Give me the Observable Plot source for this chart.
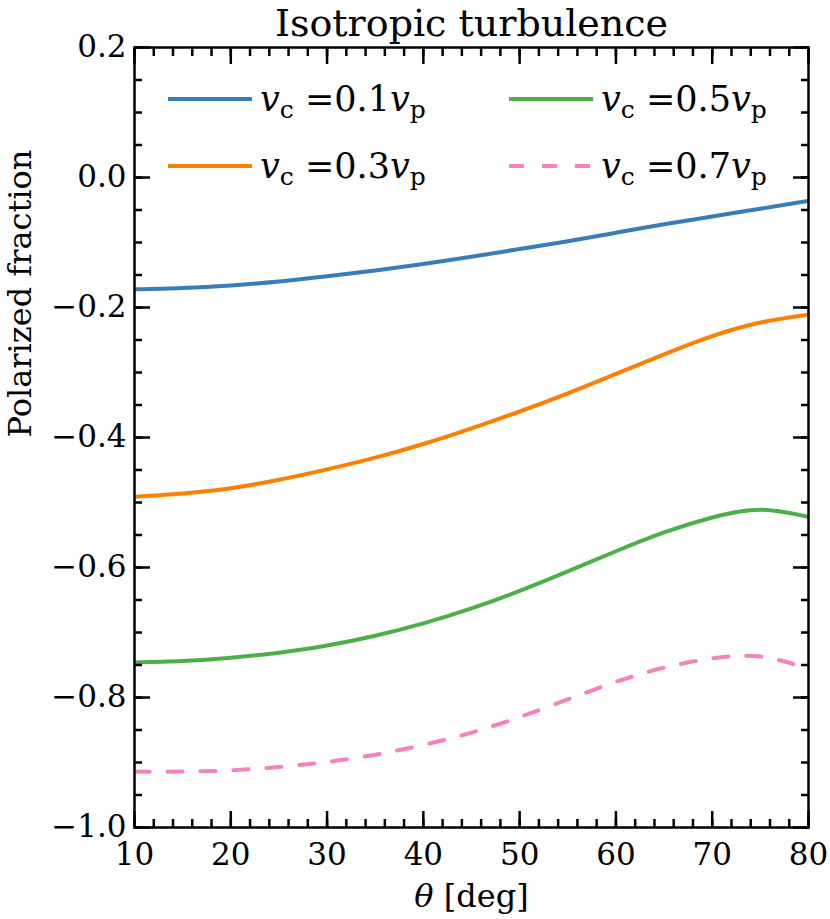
<!DOCTYPE html>
<html>
<head>
<meta charset="utf-8">
<script src="https://cdn.jsdelivr.net/npm/d3@7"></script>
<script src="https://cdn.jsdelivr.net/npm/@observablehq/plot@0.6"></script>
<style>
  body { margin: 0; background: #fff; }
  #chart { width: 830px; height: 919px; }
</style>
</head>
<body>
<div id="chart"></div>
<script>
// ---- data ----
const theta = [10, 15, 20, 25, 30, 35, 40, 45, 50, 55, 60, 65, 70, 75, 80];
const frac01 = [-0.172, -0.170, -0.166, -0.160, -0.152, -0.143, -0.133, -0.122, -0.110, -0.098, -0.085, -0.072, -0.060, -0.048, -0.036];
const frac03 = [-0.491, -0.486, -0.478, -0.465, -0.449, -0.431, -0.410, -0.386, -0.360, -0.332, -0.302, -0.272, -0.244, -0.223, -0.211];
const frac05 = [-0.746, -0.744, -0.739, -0.731, -0.720, -0.705, -0.686, -0.663, -0.636, -0.606, -0.575, -0.546, -0.523, -0.511, -0.522];
const frac07 = [-0.914, -0.914, -0.912, -0.907, -0.899, -0.888, -0.873, -0.854, -0.830, -0.803, -0.776, -0.754, -0.740, -0.737, -0.756];

const seriesRatio = ["0.1", "0.3", "0.5", "0.7"];
const seriesColors = ["#377eb8", "#ff7f00", "#4daf4a", "#f781bf"];
const seriesDash = [null, null, null, "15,18"];
const seriesValues = [frac01, frac03, frac05, frac07];

const xTicks = [10, 20, 30, 40, 50, 60, 70, 80];
const yTicks = [-1.0, -0.8, -0.6, -0.4, -0.2, 0.0, 0.2];
const xMinorTicks = d3.range(10, 80.001, 2);
const yMinorTicks = d3.range(-1.0, 0.2001, 0.05);

const titleText = "Isotropic turbulence";
const xLabelText = "θ [deg]";
const yLabelText = "Polarized fraction";

// ---- chart ----
const lineMarks = seriesValues.map((vals, s) =>
  Plot.line(theta.map((t, i) => ({theta: t, value: vals[i]})), {
    x: "theta", y: "value",
    stroke: seriesColors[s], strokeWidth: 4,
    strokeDasharray: seriesDash[s] || undefined,
    curve: "natural", clip: true
  })
);

const tickStyle = {stroke: "#000", strokeWidth: 2.5, fill: "none", label: null};

const chart = Plot.plot({
  width: 830,
  height: 919,
  marginLeft: 134,
  marginRight: 22,
  marginTop: 47,
  marginBottom: 92,
  style: {fontFamily: "'DejaVu Serif', serif", fontSize: "31px", color: "#000", background: "#fff", overflow: "visible"},
  x: {domain: [10, 80]},
  y: {domain: [-1.0, 0.2]},
  marks: [
    ...lineMarks,
    // major ticks, all four sides, pointing inward
    Plot.axisX({anchor: "bottom", ticks: xTicks, tickSize: -16, ...tickStyle}),
    Plot.axisX({anchor: "top", ticks: xTicks, tickSize: -16, ...tickStyle}),
    Plot.axisY({anchor: "left", ticks: yTicks, tickSize: -16, ...tickStyle}),
    Plot.axisY({anchor: "right", ticks: yTicks, tickSize: -16, ...tickStyle}),
    // minor ticks
    Plot.axisX({anchor: "bottom", ticks: xMinorTicks, tickSize: -8, ...tickStyle}),
    Plot.axisX({anchor: "top", ticks: xMinorTicks, tickSize: -8, ...tickStyle}),
    Plot.axisY({anchor: "left", ticks: yMinorTicks, tickSize: -8, ...tickStyle}),
    Plot.axisY({anchor: "right", ticks: yMinorTicks, tickSize: -8, ...tickStyle}),
    // tick labels
    Plot.axisX({anchor: "bottom", ticks: xTicks, tickSize: 0, tickPadding: 15, tickFormat: d3.format("d"), label: null, fontSize: 31}),
    Plot.axisY({anchor: "left", ticks: yTicks, tickSize: 0, tickPadding: 8, tickFormat: d3.format(".1f"), label: null, fontSize: 31}),
    Plot.frame({stroke: "#000", strokeWidth: 2.5}),
    // title and axis labels
    Plot.text([titleText], {frameAnchor: "top", dy: -12, lineAnchor: "bottom", fontSize: 38, fill: "#000"}),
    Plot.text([xLabelText], {frameAnchor: "bottom", dy: 79, lineAnchor: "bottom", fontSize: 32, fill: "#000"}),
    Plot.text([yLabelText], {frameAnchor: "left", dx: -104, rotate: -90, lineAnchor: "bottom", fontSize: 32, fill: "#000"})
  ]
});

document.getElementById("chart").appendChild(chart);

const svg = d3.select(chart.tagName.toLowerCase() === "svg" ? chart : chart.querySelector("svg"));

// italic theta in x label
svg.selectAll("text").filter(function() { return this.textContent === xLabelText; }).each(function() {
  const t = d3.select(this);
  t.text(null);
  t.append("tspan").attr("font-style", "italic").text("θ");
  t.append("tspan").text(" [deg]");
});

// legend (two columns, column-major like the reference)
const legendX = [168, 509];
const legendY = [99, 166];
const lg = svg.append("g")
  .attr("font-family", "'DejaVu Serif', serif")
  .attr("font-size", 35)
  .attr("text-anchor", "start");
seriesRatio.forEach((r, i) => {
  const col = Math.floor(i / 2), row = i % 2;
  const x0 = legendX[col], y0 = legendY[row];
  lg.append("line")
    .attr("x1", x0).attr("x2", x0 + 84).attr("y1", y0).attr("y2", y0)
    .attr("stroke", seriesColors[i]).attr("stroke-width", 4)
    .attr("stroke-dasharray", seriesDash[i]);
  const t = lg.append("text").attr("x", x0 + 92).attr("y", y0 + 12).attr("fill", "#000").attr("text-anchor", "start");
  t.append("tspan").attr("font-style", "italic").text("v");
  t.append("tspan").attr("font-size", 25).attr("dy", 7).text("c");
  t.append("tspan").attr("dy", -7).text(" =" + r);
  t.append("tspan").attr("font-style", "italic").text("v");
  t.append("tspan").attr("font-size", 25).attr("dy", 7).text("p");
});
</script>
</body>
</html>
